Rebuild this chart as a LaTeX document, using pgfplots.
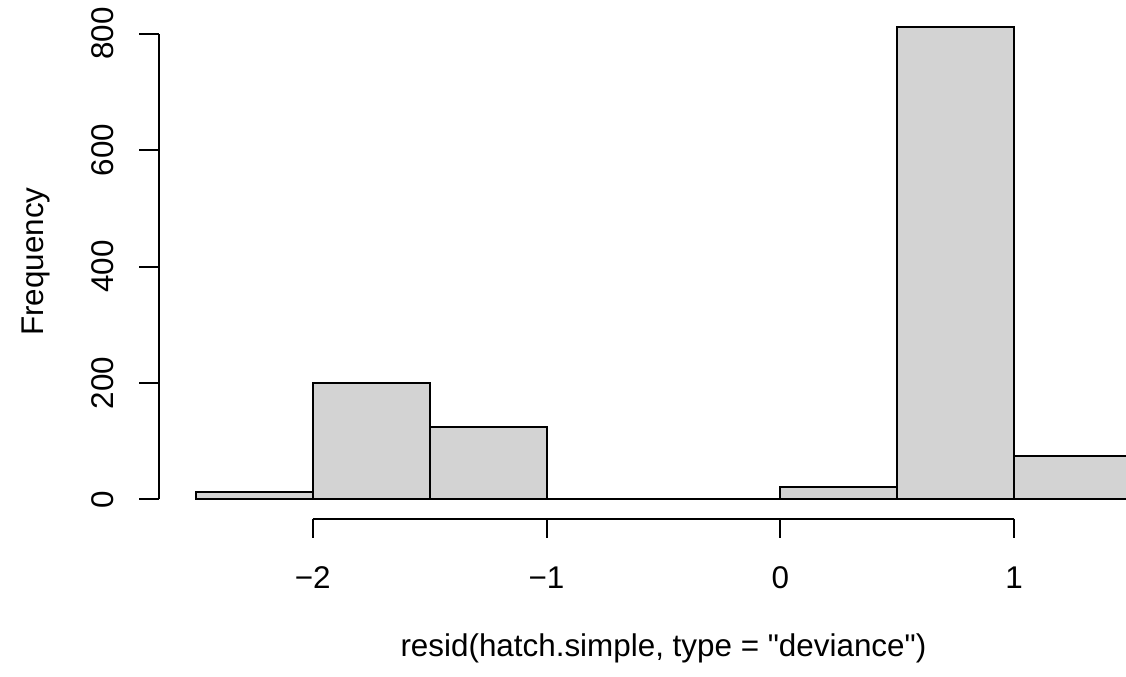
\documentclass[border=0pt]{standalone}
\usepackage{fontspec}
\setmainfont{Liberation Sans}[Ligatures=TeXOff]
\usepackage{pgfplots}
\pgfplotsset{compat=1.18}
\definecolor{histfill}{RGB}{211,211,211}

\begin{document}
\fontsize{15.7}{18}\selectfont
\begin{tikzpicture}
  \begin{axis}[
      hide axis,
      scale only axis,
      width=563pt, height=338.5pt,
      % limits chosen so the axis box is the whole picture
      xmin=-3.3375, xmax=1.4786,
      ymin=-305.3, ymax=857.9,
    ]
    % histogram bins, width 0.5 (last y only closes the interval)
    \addplot[ybar interval, fill=histfill, draw=black, line width=1pt]
      coordinates {
        (-2.5,12) (-2.0,199) (-1.5,125) (-1.0,0) (-0.5,0)
        (0.0,22) (0.5,812) (1.0,75) (1.5,75)
      };

    % R style axes, offset from the data
    \draw[line width=1pt] (axis cs:-2.6595,0) -- (axis cs:-2.6595,800);
    \pgfplotsinvokeforeach{0,200,400,600,800}{
      \draw[line width=1pt] (axis cs:-2.6595,#1) -- (axis cs:-2.743,#1);
      \node[rotate=90, anchor=base, inner sep=0pt] at (axis cs:-2.850,#1) {#1};
    }
    \draw[line width=1pt] (axis cs:-2,-33.3) -- (axis cs:1,-33.3);
    \pgfplotsinvokeforeach{-2,-1,0,1}{
      \draw[line width=1pt] (axis cs:#1,-33.3) -- (axis cs:#1,-66.0);
    }
    \node[anchor=base, inner sep=0pt] at (axis cs:-2,-152.4) {−2};
    \node[anchor=base, inner sep=0pt] at (axis cs:-1,-152.4) {−1};
    \node[anchor=base, inner sep=0pt] at (axis cs:0,-152.4) {0};
    \node[anchor=base, inner sep=0pt] at (axis cs:1,-152.4) {1};

    \node[anchor=base, inner sep=0pt] at (axis cs:-0.5,-270.1)
      {resid(hatch.simple, type = "deviance")};
    \node[rotate=90, anchor=base, inner sep=0pt] at (axis cs:-3.152,408.2)
      {Frequency};
  \end{axis}
  \pgfresetboundingbox
  \path (current axis.south west) rectangle (current axis.north east);
\end{tikzpicture}
\end{document}
